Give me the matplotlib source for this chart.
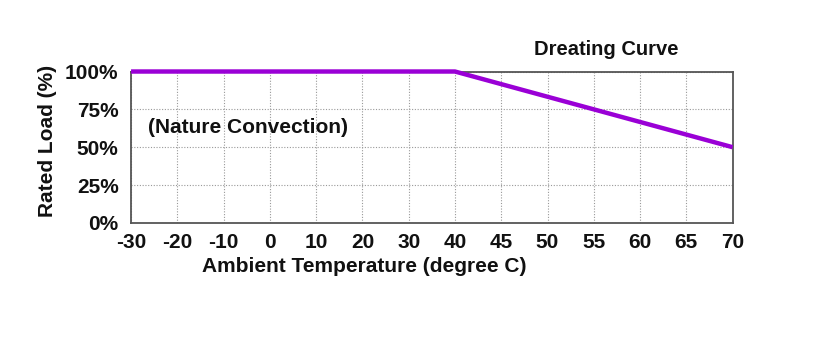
import numpy as np
import matplotlib.pyplot as plt

plt.rcParams['font.family'] = ['Liberation Sans', 'DejaVu Sans']
plt.rcParams['font.weight'] = 'bold'
plt.rcParams['axes.labelweight'] = 'bold'

# derating curve data
temp = [-30, 40, 70]
load = [100, 100, 50]

x_ticks = [-30, -20, -10, 0, 10, 20, 30, 40, 45, 50, 55, 60, 65, 70]
y_ticks = [0, 25, 50, 75, 100]
y_labels = ['0%', '25%', '50%', '75%', '100%']


# axis is 10 deg/step below 40, 5 deg/step above
def fwd(x):
    x = np.asarray(x, dtype=float)
    return np.where(x <= 40, (x + 30) / 10.0, 7 + (x - 40) / 5.0)


def inv(y):
    y = np.asarray(y, dtype=float)
    return np.where(y <= 7, y * 10.0 - 30, 40 + (y - 7) * 5.0)


fig = plt.figure(figsize=(8.14, 3.63), dpi=100)
ax = fig.add_axes([0.161, 0.386, 0.739, 0.417])
ax.set_xscale('function', functions=(fwd, inv))

ax.plot(temp, load, color='#9a00d6', lw=3.2, solid_capstyle='butt', zorder=5, clip_on=False)

ax.set_xlim(-30, 70)
ax.set_ylim(0, 100)
ax.set_xticks(x_ticks)
ax.set_xticklabels([str(t) for t in x_ticks])
ax.set_yticks(y_ticks)
ax.set_yticklabels(y_labels)
ax.minorticks_off()
ax.tick_params(length=0, labelsize=15, colors='#111111')
ax.tick_params(axis='x', pad=7)
ax.tick_params(axis='y', pad=9)

ax.grid(True, color='#999999', ls=(0, (1, 1.5)), lw=0.8)
for s in ax.spines.values():
    s.set_color('#555555')
    s.set_linewidth(1.3)

# label sits left of centre in the original
ax.set_xlabel('Ambient Temperature (degree C)', fontsize=15, labelpad=4, color='#111111', x=0.387)
ax.set_ylabel('Rated Load (%)', fontsize=15, labelpad=6, color='#111111', y=0.54)
ax.text(0.028, 0.63, '(Nature Convection)', transform=ax.transAxes, fontsize=15,
        va='center', ha='left', color='#111111')
ax.text(0.79, 1.08, 'Dreating Curve', transform=ax.transAxes, fontsize=14.5,
        va='bottom', ha='center', color='#111111')

fig.savefig('out.png', dpi=100)
